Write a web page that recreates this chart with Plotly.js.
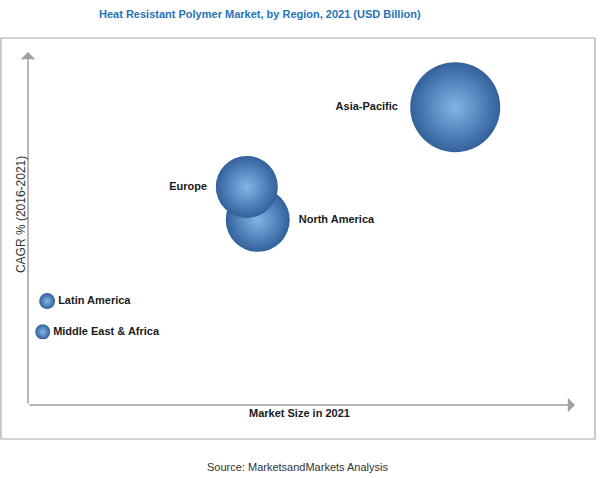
<!DOCTYPE html>
<html>
<head>
<meta charset="utf-8">
<script src="https://cdn.plot.ly/plotly-3.0.1.min.js"></script>
<style>html,body{margin:0;padding:0;background:#fff;}#chart{width:600px;height:478px;}</style>
</head>
<body>
<div id="chart"></div>
<script>
// Regions (North America listed before Europe so Europe is drawn on top)
const regions = ["Middle East & Africa", "Latin America", "North America", "Europe", "Asia-Pacific"];
// Relative market size in 2021 (x, no scale shown)
const marketSize = [2.7, 3.5, 42.0, 40.0, 78.1];
// Relative CAGR % 2016-2021 (y, no scale shown)
const cagr = [20.9, 29.7, 52.9, 62.3, 85.1];
// Bubble size (relative)
const bubbleSize = [15, 16, 64, 62, 90];
const labelPos = ["middle right", "middle right", "middle right", "middle left", "middle left"];

const trace = {
  type: "scatter",
  mode: "markers+text",
  x: marketSize,
  y: cagr,
  text: regions,
  textposition: labelPos,
  textfont: {family: "Liberation Sans, Arial, sans-serif", size: 11, color: "#1a1a1a", weight: "bold"},
  marker: {
    size: bubbleSize,
    sizemode: "diameter",
    color: "#33619b",
    gradient: {type: "radial", color: "#82b5e8"},
    line: {width: 0},
    opacity: 1
  },
  hoverinfo: "text",
  cliponaxis: false
};

const gray = "#a0a0a0";
const layout = {
  width: 600, height: 478,
  margin: {l: 28, r: 25, t: 55, b: 73},
  paper_bgcolor: "#fff", plot_bgcolor: "#fff",
  showlegend: false,
  title: {
    text: "<b>Heat Resistant Polymer Market, by Region, 2021 (USD Billion)</b>",
    font: {family: "Liberation Sans, Arial, sans-serif", size: 11, color: "#2673b8"},
    x: 0.433, xanchor: "center", y: 0.970, yanchor: "middle"
  },
  xaxis: {range: [0, 100], showgrid: false, zeroline: false, showline: false, showticklabels: false, ticks: "", fixedrange: true},
  yaxis: {range: [0, 100], showgrid: false, zeroline: false, showline: false, showticklabels: false, ticks: "", fixedrange: true},
  shapes: [
    {type: "rect", xref: "paper", yref: "paper", x0: -0.0494, x1: 1.0366, y0: -0.0971, y1: 1.0486,
     line: {color: "#a8a8a8", width: 1.2}, fillcolor: "rgba(0,0,0,0)", layer: "below"}
  ],
  annotations: [
    {xref: "paper", yref: "paper", x: 0, y: 1.0086, ax: 0, ay: 353, axref: "pixel", ayref: "pixel",
     showarrow: true, arrowhead: 1, arrowsize: 1.6, arrowwidth: 1.5, arrowcolor: gray, text: ""},
    {xref: "paper", yref: "paper", x: 1, y: 0, ax: -547, ay: 0, axref: "pixel", ayref: "pixel",
     showarrow: true, arrowhead: 1, arrowsize: 1.6, arrowwidth: 1.5, arrowcolor: gray, text: ""},
    {xref: "paper", yref: "paper", x: 0.497, y: -0.023, xanchor: "center", yanchor: "middle", showarrow: false,
     text: "<b>Market Size in 2021</b>", font: {family: "Liberation Sans, Arial, sans-serif", size: 11, color: "#1a1a1a"}},
    {xref: "paper", yref: "paper", x: -0.0125, y: 0.543, xanchor: "center", yanchor: "middle", showarrow: false, textangle: -90,
     text: "CAGR % (2016-2021)", font: {family: "Liberation Sans, Arial, sans-serif", size: 12, color: "#333"}},
    {xref: "paper", yref: "paper", x: 0.493, y: -0.177, xanchor: "center", yanchor: "middle", showarrow: false,
     text: "Source: MarketsandMarkets Analysis", font: {family: "Liberation Sans, Arial, sans-serif", size: 11, color: "#333"}}
  ]
};

Plotly.newPlot("chart", [trace], layout, {displayModeBar: false, staticPlot: true});
</script>
</body>
</html>
